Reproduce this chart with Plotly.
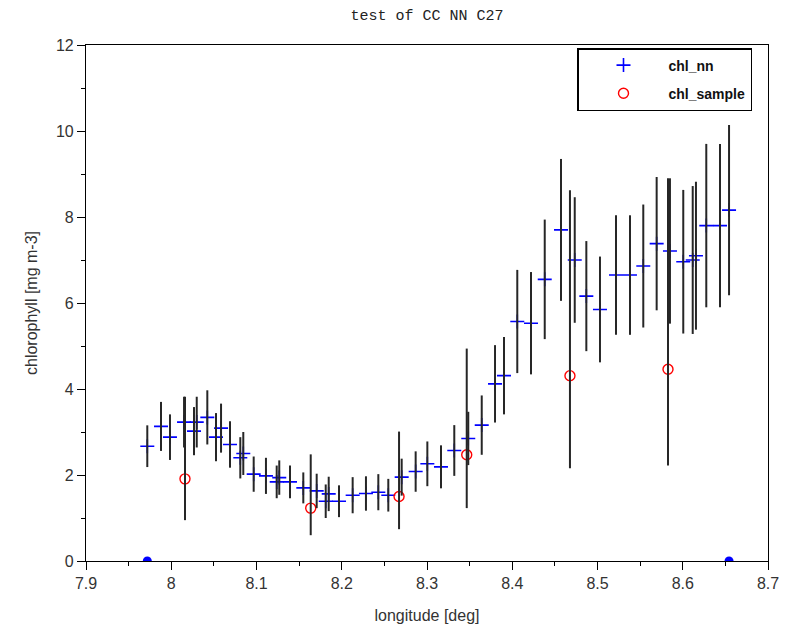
import plotly.graph_objects as go

# chl_nn: longitude, value, error half-width
nn_lon = [7.9719, 7.988, 7.9985, 8.015, 8.0267, 8.0299, 8.0423, 8.0525, 8.0584, 8.0689,
          8.081, 8.0845, 8.0967, 8.1111, 8.1237, 8.1267, 8.1393, 8.1549, 8.1706, 8.1812,
          8.1847, 8.1968, 8.2128, 8.2284, 8.2429, 8.2546, 8.2703, 8.2867, 8.3004, 8.3164,
          8.3320, 8.3484, 8.3642, 8.3798, 8.3903, 8.4059, 8.4220, 8.4381, 8.4572, 8.4733,
          8.4869, 8.5029, 8.5217, 8.5381, 8.5537, 8.5694, 8.5850, 8.6006, 8.6117, 8.6155,
          8.6276, 8.6437, 8.6543]
nn_chl = [2.67, 3.13, 2.88, 3.23, 3.02, 3.23, 3.34, 2.88, 3.09, 2.71,
          2.40, 2.50, 2.02, 1.98, 1.84, 1.94, 1.84, 1.70, 1.63, 1.39,
          1.56, 1.39, 1.53, 1.57, 1.60, 1.53, 1.95, 2.08, 2.26, 2.19,
          2.57, 2.85, 3.16, 4.12, 4.31, 5.57, 5.53, 6.55, 7.70, 7.00,
          6.16, 5.85, 6.65, 6.65, 6.86, 7.38, 7.21, 6.96, 7.00, 7.10,
          7.80, 7.80, 8.16]
nn_err = [0.485, 0.57, 0.53, 0.59, 0.56, 0.59, 0.63, 0.56, 0.57, 0.54,
          0.48, 0.50, 0.41, 0.42, 0.38, 0.40, 0.38, 0.36, 0.40, 0.39,
          0.40, 0.37, 0.42, 0.40, 0.42, 0.38, 0.43, 0.47, 0.52, 0.50,
          0.59, 0.62, 0.69, 0.90, 0.90, 1.20, 1.19, 1.39, 1.65, 1.46,
          1.28, 1.23, 1.39, 1.39, 1.43, 1.55, 1.69, 1.67, 1.72, 1.72,
          1.90, 1.90, 1.98]

# chl_sample: longitude, value, bar top, bar bottom
smp_lon = [8.0161, 8.1636, 8.2672, 8.3466, 8.4677, 8.5827]
smp_chl = [1.91, 1.23, 1.50, 2.47, 4.31, 4.46]
smp_hi = [3.82, 2.48, 3.01, 4.94, 8.62, 8.90]
smp_lo = [0.95, 0.60, 0.74, 1.23, 2.155, 2.22]

# end points marked on the axis
end_lon = [7.9719, 8.6543]
end_val = [0, 0]

ERR_COLOR = "#262626"

fig = go.Figure()

fig.add_trace(go.Scatter(
    x=nn_lon, y=nn_chl, mode="markers", name="chl_nn", legendgroup="nn",
    marker=dict(symbol="cross-thin", size=10, color="#0000ff",
                line=dict(color="#0000ff", width=1.6)),
))
fig.add_trace(go.Scatter(
    x=smp_lon, y=smp_chl, mode="markers", name="chl_sample", legendgroup="smp",
    marker=dict(symbol="circle-open", size=10, color="#ff0000",
                line=dict(color="#ff0000", width=1.4)),
))
# error bars on top
fig.add_trace(go.Scatter(
    x=nn_lon, y=nn_chl, mode="markers", showlegend=False, hoverinfo="skip",
    marker=dict(size=1, opacity=0),
    error_y=dict(type="data", array=nn_err, symmetric=True, width=0,
                 thickness=2, color=ERR_COLOR),
))
fig.add_trace(go.Scatter(
    x=smp_lon, y=smp_chl, mode="markers", showlegend=False, hoverinfo="skip",
    marker=dict(size=1, opacity=0),
    error_y=dict(type="data",
                 array=[h - v for h, v in zip(smp_hi, smp_chl)],
                 arrayminus=[v - l for v, l in zip(smp_chl, smp_lo)],
                 symmetric=False, width=0, thickness=2, color=ERR_COLOR),
))
fig.add_trace(go.Scatter(
    x=end_lon, y=end_val, mode="markers", showlegend=False, cliponaxis=True,
    marker=dict(symbol="circle", size=9, color="#0000ff"),
))

axis_font = dict(family="Liberation Sans, Arial, sans-serif", size=16, color="#333333")

fig.update_layout(
    width=802, height=638,
    margin=dict(l=86, r=34, t=45, b=77),
    paper_bgcolor="white", plot_bgcolor="white",
    title=dict(text="test of CC NN C27", x=427/802, xanchor="center",
               y=1 - 15/638, yanchor="middle",
               font=dict(family="Liberation Mono, Courier New, monospace", size=15, color="#222222")),
    xaxis=dict(range=[7.9, 8.7], tickmode="linear", tick0=7.9, dtick=0.1,
               showgrid=False, zeroline=False, showline=True, linecolor="black",
               linewidth=1.2, mirror=True, ticks="outside", ticklen=8,
               tickcolor="black", tickwidth=1.2, tickfont=axis_font,
               minor=dict(ticks="outside", ticklen=4, dtick=0.05, tickcolor="black", tickwidth=1.2),
               title=dict(text="longitude [deg]", font=axis_font, standoff=18)),
    yaxis=dict(range=[0, 12], tickmode="linear", tick0=0, dtick=2,
               showgrid=False, zeroline=False, showline=True, linecolor="black",
               linewidth=1.2, mirror=True, ticks="outside", ticklen=8,
               tickcolor="black", tickwidth=1.2, tickfont=axis_font,
               minor=dict(ticks="outside", ticklen=4, dtick=1, tickcolor="black", tickwidth=1.2),
               title=dict(text="chlorophyll [mg m-3]", font=axis_font, standoff=14)),
    legend=dict(x=(577 - 86) / 682, y=(561 - 48) / 516, xanchor="left", yanchor="top",
                bordercolor="black", borderwidth=1.5, bgcolor="white",
                font=dict(family="Liberation Sans, Arial, sans-serif", size=14, color="#111111",
                          weight="bold"),
                itemwidth=80, tracegroupgap=7),
    showlegend=True,
)

fig.write_html("out.html")
